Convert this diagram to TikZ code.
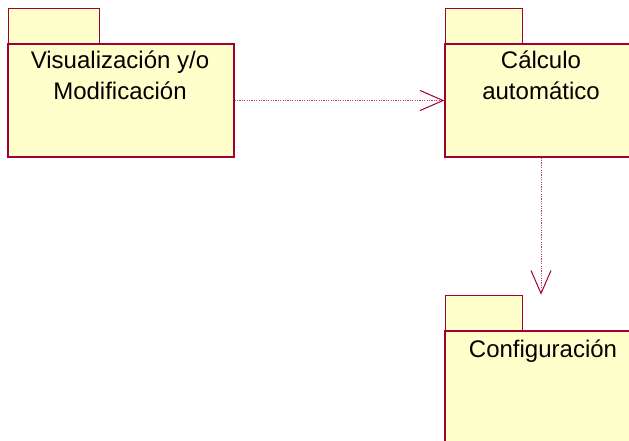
\documentclass[tikz,border=0pt]{standalone}
\usepackage{fontspec}
\setmainfont{Liberation Sans}
\usetikzlibrary{arrows.meta}
\definecolor{pkgline}{RGB}{160,0,50}
\definecolor{pkgfill}{RGB}{255,255,204}
\definecolor{depline}{RGB}{200,60,110}
\tikzset{
  pkgbody/.style={draw=pkgline, fill=pkgfill, line width=1.3, rectangle, inner sep=0},
  pkgtab/.style={draw=pkgline, fill=pkgfill, line width=1.3, rectangle, inner sep=0, anchor=south west},
  pkgtext/.style={font=\fontsize{24}{31}\selectfont, align=center, anchor=base, inner sep=0},
  dep/.style={draw=depline, line width=0.9, dash pattern=on 1.2 off 1.2,
    -{Straight Barb[length=23, width=20, line width=1, color=pkgline]}}
}
\begin{document}
\begin{tikzpicture}[x=1pt,y=-1pt]
\useasboundingbox (0,0) rectangle (629,441);
\clip (0,0) rectangle (629,441);
% package 1
\node[pkgtab, minimum width=91, minimum height=35] (t1) at (8,44) {};
\node[pkgbody, minimum width=226, minimum height=113] (b1) at (121,100.5) {};
\node[pkgtext] (x1) at (120,100) {Visualización y/o\\Modificación};
% package 2
\node[pkgtab, minimum width=77, minimum height=35] (t2) at (445,44) {};
\node[pkgbody, minimum width=192, minimum height=113] (b2) at (541,100.5) {};
\node[pkgtext] (x2) at (541,100) {Cálculo\\automático};
% package 3
\node[pkgtab, minimum width=77, minimum height=35] (t3) at (445,331) {};
\node[pkgbody, minimum width=192, minimum height=140] (b3) at (541,401) {};
\node[pkgtext] (x3) at (543,357) {Configuración};
% dependencies
\coordinate (e3) at (b3.north |- t3.north);
\draw[dep] (b1.east) -- (b2.west);
\draw[dep] (b2.south) -- (e3);
\end{tikzpicture}
\end{document}
